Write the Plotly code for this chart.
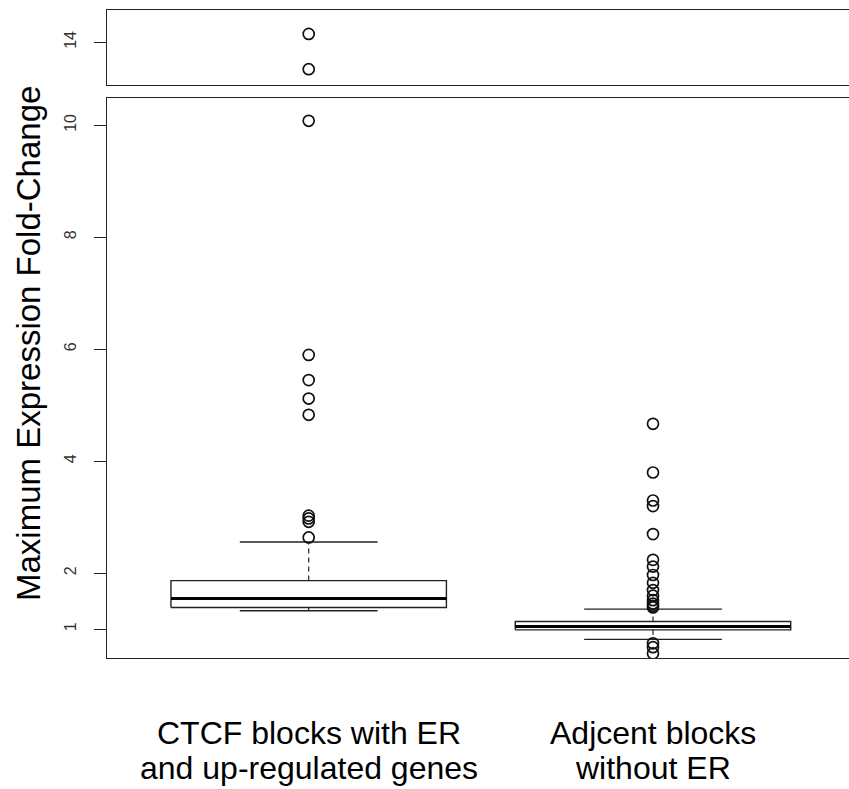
import plotly.graph_objects as go

# ---------------- data ----------------
categories = ["CTCF blocks with ER\nand up-regulated genes", "Adjcent blocks\nwithout ER"]
q1 = [1.39, 0.99]
median = [1.55, 1.05]
q3 = [1.87, 1.14]
lower_whisker = [1.33, 0.82]
upper_whisker = [2.56, 1.36]
outliers = [
    [14.15, 13.52, 10.08, 5.90, 5.45, 5.12, 4.83, 3.03, 2.98, 2.92, 2.64],
    [4.67, 3.80, 3.30, 3.20, 2.70, 2.24, 2.12, 1.97, 1.83, 1.70, 1.60,
     1.52, 1.46, 1.42, 1.39, 0.75, 0.68, 0.57],
]
y_title = "Maximum Expression Fold-Change"
bottom_ticks = [1, 2, 4, 6, 8, 10]
top_ticks = [14]
break_at = 11  # values above go to the upper panel

# ---------------- styling ----------------
W, H = 849, 789
FONT = "Liberation Sans, Arial, Helvetica, sans-serif"
LC = "#222222"
BOX_HALF = 0.40
CAP_HALF = 0.20

fig = go.Figure()

for i, cat in enumerate(categories):
    xc = i + 1
    # box rectangle
    fig.add_trace(go.Scatter(
        x=[xc - BOX_HALF, xc + BOX_HALF, xc + BOX_HALF, xc - BOX_HALF, xc - BOX_HALF],
        y=[q1[i], q1[i], q3[i], q3[i], q1[i]],
        mode="lines", line=dict(color=LC, width=1.4), hoverinfo="skip",
        xaxis="x", yaxis="y"))
    # median
    fig.add_trace(go.Scatter(
        x=[xc - BOX_HALF, xc + BOX_HALF], y=[median[i], median[i]],
        mode="lines", line=dict(color="#000000", width=3), hoverinfo="skip",
        xaxis="x", yaxis="y"))
    # whiskers (dashed)
    fig.add_trace(go.Scatter(
        x=[xc, xc, None, xc, xc],
        y=[q3[i], upper_whisker[i], None, q1[i], lower_whisker[i]],
        mode="lines", line=dict(color=LC, width=1.2, dash="5px,4px"), hoverinfo="skip",
        xaxis="x", yaxis="y"))
    # caps
    fig.add_trace(go.Scatter(
        x=[xc - CAP_HALF, xc + CAP_HALF, None, xc - CAP_HALF, xc + CAP_HALF],
        y=[upper_whisker[i], upper_whisker[i], None, lower_whisker[i], lower_whisker[i]],
        mode="lines", line=dict(color=LC, width=1.4), hoverinfo="skip",
        xaxis="x", yaxis="y"))
    low = [v for v in outliers[i] if v <= break_at]
    high = [v for v in outliers[i] if v > break_at]
    marker = dict(symbol="circle-open", size=11, color="#111111", line=dict(width=1.7))
    fig.add_trace(go.Scatter(x=[xc] * len(low), y=low, mode="markers",
                             marker=marker, xaxis="x", yaxis="y", cliponaxis=True))
    if high:
        fig.add_trace(go.Scatter(x=[xc] * len(high), y=high, mode="markers",
                                 marker=marker, xaxis="x2", yaxis="y2", cliponaxis=True))

def px_y(p):
    return (H - p) / H

xr = [0.4142, 2.5693]
xdom = [107 / W, 1.0]

fig.update_layout(
    width=W, height=H,
    margin=dict(l=0, r=0, t=0, b=0),
    paper_bgcolor="white", plot_bgcolor="white",
    showlegend=False,
    font=dict(family=FONT, color="#000000"),
    xaxis=dict(domain=xdom, range=xr, anchor="y", showgrid=False, zeroline=False,
               showline=True, linecolor=LC, linewidth=1.4, mirror=True,
               showticklabels=False, ticks=""),
    yaxis=dict(domain=[px_y(658), px_y(98)], range=[0.4875, 10.4875], anchor="x",
               showgrid=False, zeroline=False, showline=True, linecolor=LC, linewidth=1.4,
               tickvals=bottom_ticks, ticktext=[str(t) for t in bottom_ticks],
               ticks="outside", ticklen=12, tickcolor=LC, tickwidth=1.2,
               tickangle=-90, ticklabelstandoff=11,
               tickfont=dict(family=FONT, size=16, color="#333333")),
    xaxis2=dict(domain=xdom, range=xr, anchor="y2", showgrid=False, zeroline=False,
                showline=True, linecolor=LC, linewidth=1.4, mirror=True,
                showticklabels=False, ticks=""),
    yaxis2=dict(domain=[px_y(85), px_y(10)], range=[13.2375, 14.577], anchor="x2",
                showgrid=False, zeroline=False, showline=True, linecolor=LC, linewidth=1.4,
                tickvals=top_ticks, ticktext=[str(t) for t in top_ticks],
                ticks="outside", ticklen=12, tickcolor=LC, tickwidth=1.2,
                tickangle=-90, ticklabelstandoff=11,
                tickfont=dict(family=FONT, size=16, color="#333333")),
)

# category labels (two lines each)
for i, cat in enumerate(categories):
    for j, line in enumerate(cat.split("\n")):
        fig.add_annotation(x=i + 1, xref="x", y=px_y(733 + 35 * j), yref="paper",
                           text=line, showarrow=False, xanchor="center", yanchor="middle",
                           font=dict(family=FONT, size=32, color="#000000"))

# y axis title
fig.add_annotation(x=28 / W, xref="paper", y=px_y(344), yref="paper",
                   text=y_title, textangle=-90, showarrow=False,
                   xanchor="center", yanchor="middle",
                   font=dict(family=FONT, size=33, color="#000000"))

fig.write_html("out.html")
